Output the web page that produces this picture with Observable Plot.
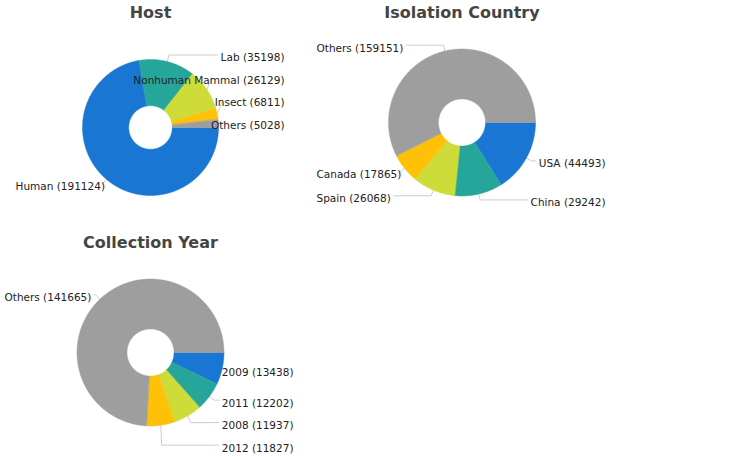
<!DOCTYPE html>
<html>
<head>
<meta charset="utf-8">
<script src="https://cdn.jsdelivr.net/npm/d3@7"></script>
<script src="https://cdn.jsdelivr.net/npm/@observablehq/plot@0.6"></script>
<style>
  html, body { margin: 0; padding: 0; background: #fff; }
  #chart svg { display: block; }
</style>
</head>
<body>
<div id="chart"></div>
<script>
// ---- data ----
const hostCategories = ["Human", "Lab", "Nonhuman Mammal", "Insect", "Others"];
const hostValues = [191124, 35198, 26129, 6811, 5028];
const countryCategories = ["USA", "China", "Spain", "Canada", "Others"];
const countryValues = [44493, 29242, 26068, 17865, 159151];
const yearCategories = ["2009", "2011", "2008", "2012", "Others"];
const yearValues = [13438, 12202, 11937, 11827, 141665];
const chartTitles = ["Host", "Isolation Country", "Collection Year"];

// ---- style / layout ----
const palette = ["#1976D2", "#26A69A", "#CDDC39", "#FFC107", "#9E9E9E"];
const W = 743, H = 456;
const FONT = "DejaVu Sans";
const LABEL_SIZE = 10.5;
const panels = [
  {title: chartTitles[0], cats: hostCategories, vals: hostValues, cx: 150, cy: 127, r: 68, left: 15, right: 284, titleY: 12.5},
  {title: chartTitles[1], cats: countryCategories, vals: countryValues, cx: 461.5, cy: 122, r: 73.5, left: 316, right: 605, titleY: 12.5},
  {title: chartTitles[2], cats: yearCategories, vals: yearValues, cx: 150, cy: 352, r: 73.5, left: 4, right: 293, titleY: 242}
];

const ctx = document.createElement("canvas").getContext("2d");
ctx.font = `${LABEL_SIZE}px '${FONT}'`;
const measure = (t) => ctx.measureText(t).width;

const slicePts = [], linePts = [], labels = [], titles = [];
panels.forEach((p, pi) => {
  const arcs = d3.pie().sort(null).value(d => d)
    .startAngle(Math.PI / 2).endAngle(Math.PI / 2 + 2 * Math.PI)(p.vals);
  const r0 = p.r * 0.32, R = p.r + 6, G = 22.5;
  arcs.forEach((a, i) => {
    const id = `${pi}-${i}`;
    const n = Math.max(2, Math.ceil((a.endAngle - a.startAngle) / (Math.PI / 360)));
    for (let k = 0; k <= n; k++) {
      const t = a.startAngle + (a.endAngle - a.startAngle) * k / n;
      slicePts.push({id, color: palette[i], x: p.cx + p.r * Math.sin(t), y: p.cy - p.r * Math.cos(t)});
    }
    for (let k = n; k >= 0; k--) {
      const t = a.startAngle + (a.endAngle - a.startAngle) * k / n;
      slicePts.push({id, color: palette[i], x: p.cx + r0 * Math.sin(t), y: p.cy - r0 * Math.cos(t)});
    }
  });
  // label layout
  const items = arcs.map((a, i) => {
    const text = `${p.cats[i]} (${p.vals[i]})`;
    const w = measure(text);
    let theta = (a.startAngle + a.endAngle) / 2;
    const right = Math.sin(theta) >= 0;
    if (!right && Math.cos(theta) > 0) {
      // keep the elbow of an upper-left leader clear of its label
      const s = (p.left + w + 3 - p.cx) / R;
      if (s > Math.sin(theta) && s < 0) theta = 2 * Math.PI + Math.asin(s);
    }
    return {i, text, w, theta, right, upper: Math.cos(theta) > 0, ly: p.cy - R * Math.cos(theta)};
  });
  for (const side of [true, false]) for (const up of [true, false]) {
    const g = items.filter(d => d.right === side && d.upper === up).sort((a, b) => a.ly - b.ly);
    if (!g.length) continue;
    if (!up && g[0].ly < p.cy + 5) g[0].ly = p.cy + 5;
    for (let k = 1; k < g.length; k++) if (g[k].ly < g[k - 1].ly + G) g[k].ly = g[k - 1].ly + G;
    if (up) {
      const maxB = p.cy - 5;
      if (g[g.length - 1].ly > maxB) {
        g[g.length - 1].ly = maxB;
        for (let k = g.length - 2; k >= 0; k--) g[k].ly = Math.min(g[k].ly, g[k + 1].ly - G);
      }
    }
  }
  items.forEach(d => {
    const id = `${pi}-${d.i}`;
    const x0 = p.cx + p.r * Math.sin(d.theta), y0 = p.cy - p.r * Math.cos(d.theta);
    const x1 = p.cx + R * Math.sin(d.theta);
    let x2, tx, anchor;
    if (d.right) { tx = p.right; anchor = "end"; x2 = Math.max(p.right - d.w - 3, x1); }
    else { tx = p.left; anchor = "start"; x2 = Math.min(p.left + d.w + 3, x1); }
    linePts.push({id, x: x0, y: y0}, {id, x: x1, y: d.ly}, {id, x: x2, y: d.ly});
    labels.push({text: d.text, x: tx, y: d.ly + 3, anchor});
  });
  titles.push({text: p.title, x: p.cx, y: p.titleY});
});

const chart = Plot.plot({
  width: W, height: H, margin: 0,
  style: {fontFamily: FONT, background: "#fff"},
  x: {domain: [0, W], range: [0, W], axis: null},
  y: {domain: [0, H], range: [0, H], axis: null},
  marks: [
    Plot.line(linePts, {x: "x", y: "y", z: "id", stroke: "#cccccc", strokeWidth: 1, curve: "linear"}),
    Plot.line(slicePts, {x: "x", y: "y", z: "id", fill: "color", stroke: "color", strokeWidth: 0.5, curve: "linear-closed"}),
    Plot.text(labels.filter(d => d.anchor === "end"), {x: "x", y: "y", text: "text", textAnchor: "end", fill: "#222", fontSize: LABEL_SIZE}),
    Plot.text(labels.filter(d => d.anchor === "start"), {x: "x", y: "y", text: "text", textAnchor: "start", fill: "#222", fontSize: LABEL_SIZE}),
    Plot.text(titles, {x: "x", y: "y", text: "text", fill: "#444", fontSize: 16, fontWeight: "bold"})
  ]
});
document.getElementById("chart").appendChild(chart);
</script>
</body>
</html>
